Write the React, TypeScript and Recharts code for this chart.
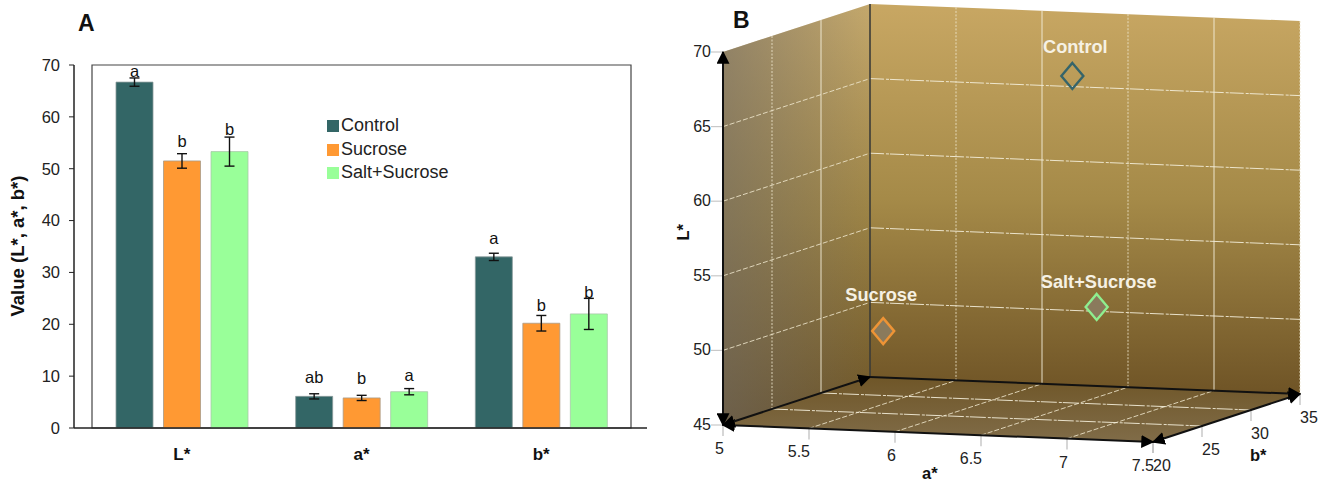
import React from "react";
import { BarChart, Bar, XAxis, YAxis, ErrorBar, LabelList, Legend, ReferenceArea, ScatterChart, Scatter } from "recharts";

// ---------- Panel A data ----------
const categories = ["L*", "a*", "b*"];
const controlValues = [66.7, 6.1, 33.0];
const sucroseValues = [51.5, 5.8, 20.2];
const saltValues = [53.3, 7.0, 22.0];
const controlErrors = [0.8, 0.5, 0.7];
const sucroseErrors = [1.4, 0.5, 1.5];
const saltErrors = [2.8, 0.6, 3.0];
const controlLetters = ["a", "ab", "a"];
const sucroseLetters = ["b", "b", "b"];
const saltLetters = ["b", "a", "b"];
const controlLetterLevels = [68.8, 9.8, 36.6];
const sucroseLetterLevels = [55.3, 9.6, 23.7];
const saltLetterLevels = [57.5, 10.2, 26.2];
const yTicks = [0, 10, 20, 30, 40, 50, 60, 70];

const COLORS = { control: "#336666", sucrose: "#FF9933", salt: "#99FF99" };

const barData = categories.map((c, i) => ({
  category: c,
  Control: controlValues[i],
  Sucrose: sucroseValues[i],
  "Salt+Sucrose": saltValues[i],
  controlErr: controlErrors[i],
  sucroseErr: sucroseErrors[i],
  saltErr: saltErrors[i],
  controlLetter: controlLetters[i],
  sucroseLetter: sucroseLetters[i],
  saltLetter: saltLetters[i],
}));

// ---------- Panel B data ----------
const aTicks = [5, 5.5, 6, 6.5, 7, 7.5];
const bTicks = [20, 25, 30, 35];
const lTicks = [45, 50, 55, 60, 65, 70];
const pointNames = ["Control", "Sucrose", "Salt+Sucrose"];
const pointA = [6.41, 5.88, 7.03];
const pointB = [30.9, 20.9, 22.5];
const pointL = [66.7, 51.5, 53.3];

const FONT = "'Liberation Sans', Arial, sans-serif";

// oblique projection from (a*, b*, L*) into the panel's plotting plane
const project = (a: number, b: number, L: number) => ({
  px: 723 + 172 * (a - 5) + 9.8 * (b - 20),
  py: 425 + 6.8 * (a - 5) - 3.2 * (b - 20) - 14.92 * (L - 45),
});

const noShape = () => <g />;

const face = (fill: string) => (p: any) => (
  <polygon
    points={(p.points || []).map((q: any) => `${q.cx ?? q.x},${q.cy ?? q.y}`).join(" ")}
    fill={fill}
    stroke="none"
  />
);

const letterLabel = (letters: string[], levels: number[], values: number[]) => (p: any) => {
  const { x, y, width, height, index } = p;
  const perUnit = height / values[index];
  const cy = y + height - levels[index] * perUnit;
  return (
    <text x={x + width / 2} y={cy + 5.5} textAnchor="middle" fontSize={16.5} fontFamily={FONT} fill="#111">
      {letters[index]}
    </text>
  );
};

const errProps = { width: 5, stroke: "#111", strokeWidth: 1.4 };

function PanelA() {
  return (
    <BarChart
      width={660}
      height={482}
      data={barData}
      margin={{ top: 65, right: 13, bottom: 0, left: 0 }}
      barSize={37}
      barGap={10.5}
      barCategoryGap={0}
      style={{ position: "absolute", left: 0, top: 0 }}
    >
      <ReferenceArea y1={0} y2={70} fill="none" stroke="#444" strokeWidth={1.2} ifOverflow="visible" />
      <XAxis
        dataKey="category"
        height={54}
        padding={{ left: 18, right: 16 }}
        axisLine={{ stroke: "#222", strokeWidth: 1.5 }}
        tickLine={false}
        tickMargin={14}
        tick={{ fontSize: 17, fontWeight: 700, fill: "#111", fontFamily: FONT }}
      />
      <YAxis
        width={74}
        domain={[0, 70]}
        ticks={yTicks}
        interval={0}
        axisLine={{ stroke: "#222", strokeWidth: 1.5 }}
        tickLine={{ stroke: "#222" }}
        tickSize={5}
        tickMargin={9}
        tick={{ fontSize: 16.5, fill: "#222", fontFamily: FONT }}
        label={{
          value: "Value (L*, a*, b*)",
          angle: -90,
          position: "insideLeft",
          dx: 12,
          dy: 70,
          style: { fontSize: 18.5, fontWeight: 700, fill: "#111", fontFamily: FONT },
        }}
      />
      <Legend
        layout="vertical"
        align="center"
        verticalAlign="middle"
        iconType="square"
        iconSize={12}
        itemSorter={null}
        wrapperStyle={{ left: 327, top: 114, width: 170, fontSize: 18, lineHeight: "23.5px", fontFamily: FONT }}
        formatter={(v: string) => <span style={{ color: "#222", marginLeft: -2 }}>{v}</span>}
      />
      <Bar dataKey="Control" fill={COLORS.control} stroke="#8a9a9a" strokeWidth={0.8} isAnimationActive={false}>
        <ErrorBar dataKey="controlErr" {...errProps} />
        <LabelList dataKey="controlLetter" content={letterLabel(controlLetters, controlLetterLevels, controlValues)} />
      </Bar>
      <Bar dataKey="Sucrose" fill={COLORS.sucrose} stroke="#a89a88" strokeWidth={0.8} isAnimationActive={false}>
        <ErrorBar dataKey="sucroseErr" {...errProps} />
        <LabelList dataKey="sucroseLetter" content={letterLabel(sucroseLetters, sucroseLetterLevels, sucroseValues)} />
      </Bar>
      <Bar dataKey="Salt+Sucrose" fill={COLORS.salt} stroke="#a8c8a8" strokeWidth={0.8} isAnimationActive={false}>
        <ErrorBar dataKey="saltErr" {...errProps} />
        <LabelList dataKey="saltLetter" content={letterLabel(saltLetters, saltLetterLevels, saltValues)} />
      </Bar>
    </BarChart>
  );
}

type Pt = { px: number; py: number };
const seg = (key: string, p1: Pt, p2: Pt, style: any) => (
  <Scatter key={key} data={[p1, p2]} dataKey="py" line={style} shape={noShape} isAnimationActive={false} />
);

const textShape = (style: any) => (p: any) => (
  <text x={p.cx + (style.dx || 0)} y={p.cy + (style.dy || 0)} textAnchor={style.anchor} fontSize={16} fontFamily={FONT} fill="#222">
    {p.payload.text}
  </text>
);

const diamond = (stroke: string, fill: string, nudge: { dx: number; dy: number }) => (p: any) => (
  <g>
    <polygon
      points={`${p.cx},${p.cy - 13} ${p.cx + 11},${p.cy} ${p.cx},${p.cy + 13} ${p.cx - 11},${p.cy}`}
      fill={fill}
      stroke={stroke}
      strokeWidth={2.4}
    />
    <text
      x={p.cx + nudge.dx}
      y={p.cy + nudge.dy}
      textAnchor="middle"
      fontSize={18.2}
      fontWeight={700}
      fontFamily={FONT}
      fill="#f6f1e4"
    >
      {p.payload.name}
    </text>
  </g>
);

const arrowLine = (both: boolean, width = 2) => ({
  stroke: "#111",
  strokeWidth: width,
  markerEnd: "url(#arrowHead)",
  markerStart: both ? "url(#arrowHeadStart)" : undefined,
});

function PanelB() {
  const wallSolid = { stroke: "#f4eeda", strokeWidth: 1, strokeOpacity: 0.9 };
  const wallDash = { stroke: "#efe6cc", strokeWidth: 1, strokeDasharray: "5 2", strokeOpacity: 0.85 };
  const wallDot = { stroke: "#efe6cc", strokeWidth: 1, strokeDasharray: "2 1.5", strokeOpacity: 0.85 };
  const points = pointNames.map((name, i) => ({ name, ...project(pointA[i], pointB[i], pointL[i]) }));
  const aMin = aTicks[0], aMax = aTicks[aTicks.length - 1];
  const bMin = bTicks[0], bMax = bTicks[bTicks.length - 1];
  const lMin = lTicks[0], lMax = lTicks[lTicks.length - 1];
  return (
    <ScatterChart
      width={658}
      height={482}
      margin={{ top: 0, right: 0, bottom: 0, left: 0 }}
      style={{ position: "absolute", left: 660, top: 0 }}
    >
      <defs>
        <linearGradient id="backWall" x1="0" y1="0" x2="0" y2="1">
          <stop offset="0" stopColor="#c8a763" />
          <stop offset="0.5" stopColor="#a58a48" />
          <stop offset="1" stopColor="#6f5426" />
        </linearGradient>
        <linearGradient id="sideWall" x1="0" y1="0" x2="0" y2="1">
          <stop offset="0" stopColor="#c4a86c" />
          <stop offset="0.5" stopColor="#9c8345" />
          <stop offset="1" stopColor="#6a5226" />
        </linearGradient>
        <linearGradient id="sideShade" x1="0" y1="0" x2="1" y2="0">
          <stop offset="0" stopColor="#6e6a68" stopOpacity="0.55" />
          <stop offset="1" stopColor="#6e6a68" stopOpacity="0" />
        </linearGradient>
        <linearGradient id="floor" x1="0" y1="0" x2="0" y2="1">
          <stop offset="0" stopColor="#6f5628" />
          <stop offset="1" stopColor="#806c48" />
        </linearGradient>
        <marker id="arrowHead" viewBox="0 0 10 10" refX="9" refY="5" markerWidth="6.5" markerHeight="6.5" orient="auto" markerUnits="strokeWidth">
          <path d="M0,0 L10,5 L0,10 Z" fill="#000" />
        </marker>
        <marker id="arrowHeadStart" viewBox="0 0 10 10" refX="1" refY="5" markerWidth="6.5" markerHeight="6.5" orient="auto" markerUnits="strokeWidth">
          <path d="M10,0 L0,5 L10,10 Z" fill="#000" />
        </marker>
      </defs>
      <XAxis type="number" dataKey="px" domain={[660, 1318]} hide allowDataOverflow />
      <YAxis type="number" dataKey="py" domain={[0, 482]} reversed hide allowDataOverflow />

      {/* walls and floor */}
      <Scatter
        data={[project(aMin, bMax, lMax), project(aMax, bMax, lMax), project(aMax, bMax, lMin), project(aMin, bMax, lMin)]}
        line={face("url(#backWall)")}
        shape={noShape}
        isAnimationActive={false}
      />
      <Scatter
        data={[project(aMin, bMin, lMax), project(aMin, bMax, lMax), project(aMin, bMax, lMin), project(aMin, bMin, lMin)]}
        line={face("url(#sideWall)")}
        shape={noShape}
        isAnimationActive={false}
      />
      <Scatter
        data={[project(aMin, bMin, lMax), project(aMin, bMax, lMax), project(aMin, bMax, lMin), project(aMin, bMin, lMin)]}
        line={face("url(#sideShade)")}
        shape={noShape}
        isAnimationActive={false}
      />
      <Scatter
        data={[project(aMin, bMin, lMin), project(aMin, bMax, lMin), project(aMax, bMax, lMin), project(aMax, bMin, lMin)]}
        line={face("url(#floor)")}
        shape={noShape}
        isAnimationActive={false}
      />

      {/* grid on the walls */}
      {lTicks.slice(1, -1).map((L) => seg(`lb${L}`, project(aMin, bMax, L), project(aMax, bMax, L), { ...wallSolid, strokeDasharray: "14 2 3 1" }))}
      {lTicks.slice(1, -1).map((L) => seg(`ls${L}`, project(aMin, bMin, L), project(aMin, bMax, L), wallDash))}
      {aTicks.slice(1, -1).map((a, i) => seg(`av${a}`, project(a, bMax, lMin), project(a, bMax, lMax), i % 2 === 0 ? wallDot : wallSolid))}
      {bTicks.slice(1, -1).map((b, i) => seg(`bv${b}`, project(aMin, b, lMin), project(aMin, b, lMax), i % 2 === 0 ? wallDot : wallSolid))}
      {seg("topL", project(aMax, bMax, lMin), project(aMax, bMax, lMax), wallDot)}
      {/* grid on the floor */}
      {aTicks.slice(1, -1).map((a) => seg(`fa${a}`, project(a, bMin, lMin), project(a, bMax, lMin), wallDash))}
      {bTicks.slice(1, -1).map((b) => seg(`fb${b}`, project(aMin, b, lMin), project(aMax, b, lMin), { ...wallSolid, strokeDasharray: "16 2 3 1" }))}

      {/* tick marks */}
      {lTicks.map((L) => {
        const p = project(aMin, bMin, L);
        return seg(`tl${L}`, { px: p.px - 12, py: p.py }, p, { stroke: "#c8c8c8", strokeWidth: 1.2 });
      })}
      {aTicks.map((a) => {
        const p = project(a, bMin, lMin);
        return seg(`ta${a}`, p, { px: p.px, py: p.py + 11 }, { stroke: "#bbb", strokeWidth: 1.2 });
      })}
      {bTicks.map((b) => {
        const p = project(aMax, b, lMin);
        return seg(`tb${b}`, p, { px: p.px, py: p.py + 11 }, { stroke: "#bbb", strokeWidth: 1.2 });
      })}

      {/* axes */}
      {seg("backV", project(aMin, bMax, lMin), project(aMin, bMax, lMax), { stroke: "#3c3c38", strokeWidth: 1.6 })}
      {seg("axL", project(aMin, bMin, lMin), project(aMin, bMin, lMax), arrowLine(true))}
      {seg("axA", project(aMin, bMin, lMin), project(aMax, bMin, lMin), arrowLine(true))}
      {seg("axB", project(aMax, bMin, lMin), project(aMax, bMax, lMin), arrowLine(true))}
      {seg("axSide", project(aMin, bMin, lMin), project(aMin, bMax, lMin), arrowLine(true))}
      {seg("axBack", project(aMin, bMax, lMin), project(aMax, bMax, lMin), arrowLine(false))}

      {/* tick labels */}
      <Scatter
        data={lTicks.map((L) => ({ ...project(aMin, bMin, L), text: String(L) }))}
        shape={textShape({ dx: -12, dy: 5, anchor: "end" })}
        isAnimationActive={false}
      />
      <Scatter
        data={aTicks.map((a) => ({ ...project(a, bMin, lMin), text: String(a) }))}
        shape={textShape({ dx: 1, dy: 29, anchor: "end" })}
        isAnimationActive={false}
      />
      <Scatter
        data={bTicks.map((b) => ({ ...project(aMax, b, lMin), text: String(b) }))}
        shape={textShape({ dx: 0, dy: 29, anchor: "start" })}
        isAnimationActive={false}
      />

      {/* points */}
      <Scatter data={[points[0]]} shape={diamond("#35646a", "none", { dx: 3, dy: -23 })} isAnimationActive={false} />
      <Scatter data={[points[1]]} shape={diamond("#ee9436", "#8a7a5c", { dx: -2, dy: -30 })} isAnimationActive={false} />
      <Scatter data={[points[2]]} shape={diamond("#8fee8f", "#8a7a5c", { dx: 2, dy: -19 })} isAnimationActive={false} />
    </ScatterChart>
  );
}

export default function App() {
  const axisTitle = { position: "absolute" as const, fontFamily: FONT, fontWeight: 700, fontSize: 16.5, color: "#111", lineHeight: 1 };
  const panelTitle = { position: "absolute" as const, fontFamily: FONT, fontWeight: 700, fontSize: 23, color: "#111", lineHeight: 1 };
  return (
    <div style={{ position: "absolute", left: 0, top: 0, width: 1318, height: 482, background: "#fff", overflow: "hidden" }}>
      <PanelA />
      <PanelB />
      <div style={{ ...panelTitle, left: 78, top: 12 }}>A</div>
      <div style={{ ...panelTitle, left: 733, top: 9 }}>B</div>
      <div style={{ ...axisTitle, left: 922, top: 465 }}>a*</div>
      <div style={{ ...axisTitle, left: 1250, top: 447 }}>b*</div>
      <div style={{ ...axisTitle, left: 675, top: 224, transform: "rotate(-90deg)" }}>L*</div>
    </div>
  );
}
